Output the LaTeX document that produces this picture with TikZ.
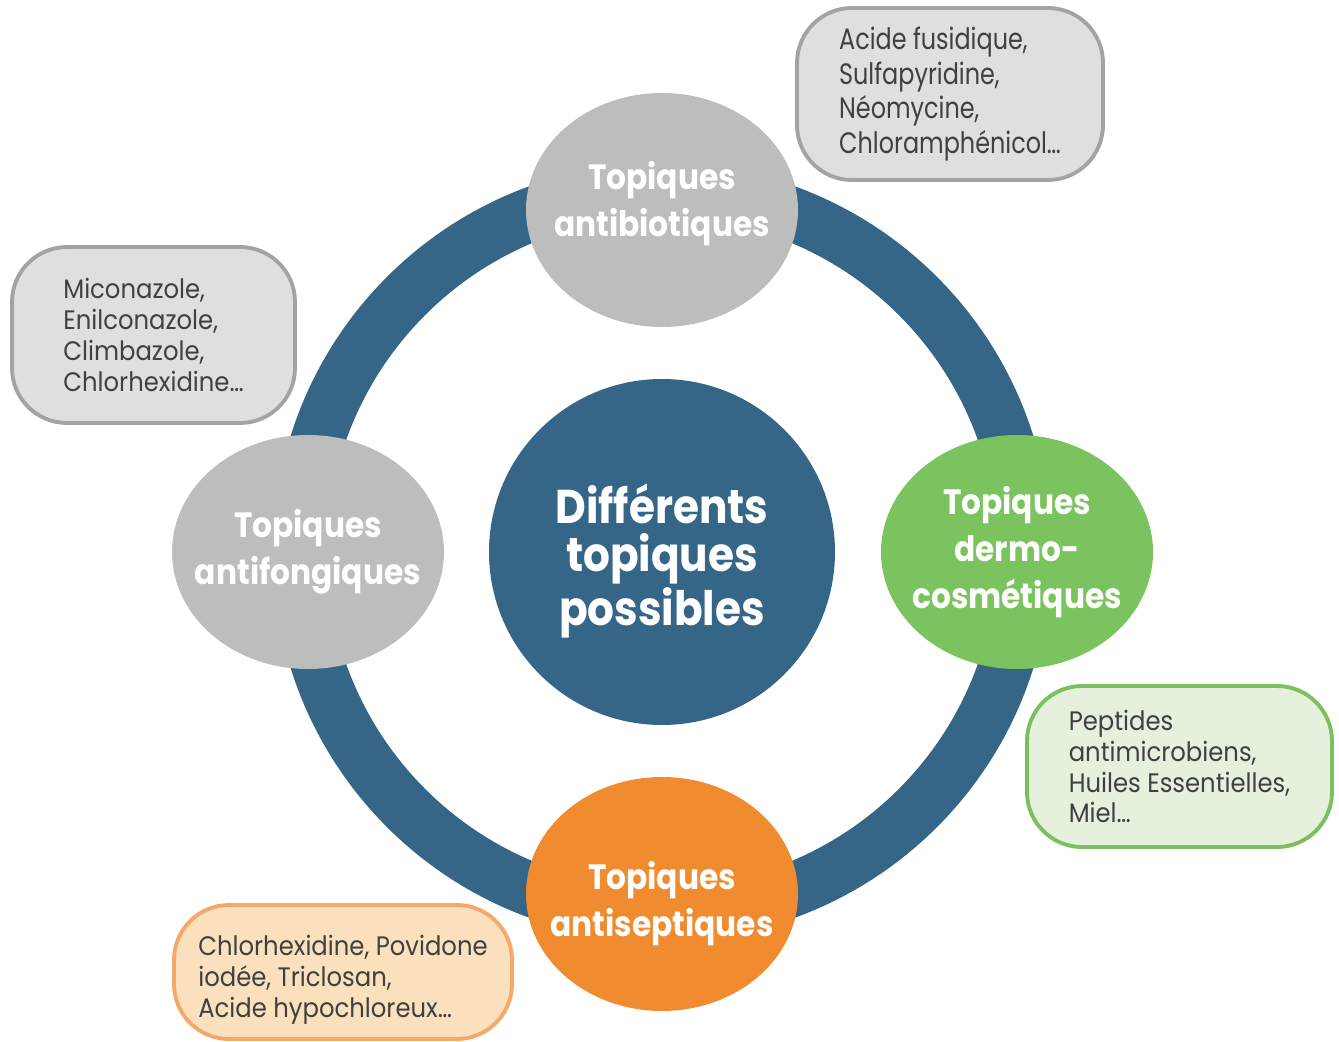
\documentclass[tikz,border=0pt]{standalone}
\usepackage{fontspec}
\setmainfont{Poppins}
\newfontfamily\headfont{Poppins}[FakeStretch=0.89]
\newfontfamily\listfont{Poppins}[FakeStretch=0.91]
\newfontfamily\tallfont{Poppins}[FakeStretch=0.81]
\usetikzlibrary{shapes.geometric}
\definecolor{ringblue}{HTML}{356688}
\definecolor{topgray}{HTML}{BDBDBD}
\definecolor{topgreen}{HTML}{7BC35E}
\definecolor{toporange}{HTML}{F08B2F}
\definecolor{boxgray}{HTML}{DEDFE1}
\definecolor{edgegray}{HTML}{A2A3A6}
\definecolor{boxgreen}{HTML}{E5F0DD}
\definecolor{edgegreen}{HTML}{7CBF5E}
\definecolor{boxorange}{HTML}{FBE0BD}
\definecolor{edgeorange}{HTML}{F5A86A}
\definecolor{textgray}{HTML}{404040}
\begin{document}
\begin{tikzpicture}[
        topic/.style={ellipse, minimum width=2.72cm, minimum height=2.34cm, inner sep=0pt},
        topictext/.style={text=white, align=center, inner sep=0pt, font=\headfont\bfseries\fontsize{10}{13.4}\selectfont},
        centretext/.style={text=white, align=center, inner sep=0pt, font=\headfont\bfseries\fontsize{13.5}{13.8}\selectfont},
        listbox/.style={rounded corners=0.55cm, line width=1.1pt, inner sep=0pt},
        listtext/.style={align=left, inner sep=0pt, text=textgray, font=\listfont\fontsize{7.6}{8.8}\selectfont}]
            \useasboundingbox (0,0) rectangle (13.39,10.41);
            \coordinate (hub) at (6.62,4.89);
            \draw[ringblue, line width=0.54cm] (hub) circle (3.62);

            \node[circle, fill=ringblue, minimum size=3.46cm, inner sep=0pt, label={[centretext, yshift=-0.09cm]center:{Différents\\topiques\\possibles}}] (centre) at (hub) {};
            \node[topic, fill=topgray, label={[topictext, yshift=0.06cm]center:{Topiques\\antibiotiques}}] (antibio) at (6.62,8.31) {};
            \node[topic, fill=topgray, label={[topictext]center:{Topiques\\antifongiques}}] (antifong) at (3.08,4.89) {};
            \node[topic, fill=topgreen, label={[topictext]center:{Topiques\\dermo-\\cosmétiques}}] (dermo) at (10.17,4.89) {};
            \node[topic, fill=toporange, label={[topictext, yshift=-0.1cm]center:{Topiques\\antiseptiques}}] (antisep) at (6.62,1.47) {};

            \node[listbox, draw=edgegray, fill=boxgray, minimum width=3.06cm, minimum height=1.72cm, label={[listtext, font=\tallfont\fontsize{8.4}{9.8}\selectfont]center:{Acide fusidique,\\Sulfapyridine,\\Néomycine,\\Chloramphénicol…}}] (antibiolist) at (9.50,9.47) {};
            \node[listbox, draw=edgegray, fill=boxgray, minimum width=2.83cm, minimum height=1.76cm, label={[listtext]center:{Miconazole,\\Enilconazole,\\Climbazole,\\Chlorhexidine…}}] (antifonglist) at (1.535,7.06) {};
            \node[listbox, draw=edgegreen, fill=boxgreen, minimum width=3.05cm, minimum height=1.61cm, label={[listtext]center:{Peptides\\antimicrobiens,\\Huiles Essentielles,\\Miel…}}] (dermolist) at (11.795,2.745) {};
            \node[listbox, draw=edgeorange, fill=boxorange, minimum width=3.38cm, minimum height=1.34cm, label={[listtext, yshift=-0.08cm]center:{Chlorhexidine, Povidone\\iodée, Triclosan,\\Acide hypochloreux…}}] (antiseplist) at (3.43,0.69) {};
        \end{tikzpicture}
\end{document}
